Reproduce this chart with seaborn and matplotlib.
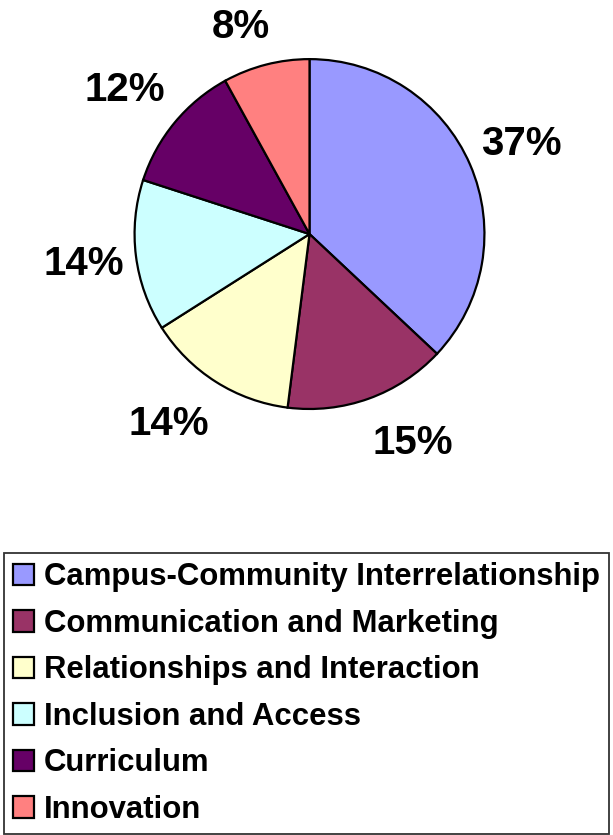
import matplotlib
matplotlib.use("Agg")
import numpy as np
import matplotlib.pyplot as plt
import seaborn as sns

# Slice data, clockwise from 12 o'clock
categories = [
    "Campus-Community Interrelationship",
    "Communication and Marketing",
    "Relationships and Interaction",
    "Inclusion and Access",
    "Curriculum",
    "Innovation",
]
shares = [37, 15, 14, 14, 12, 8]
slice_colors = ["#9999FF", "#993366", "#FFFFCC", "#CCFFFF", "#660066", "#FF8080"]

sns.set_theme(style="white")
plt.rcParams["font.family"] = ["Liberation Sans", "DejaVu Sans"]
plt.rcParams["font.weight"] = "bold"
plt.rcParams["text.color"] = "black"

fig = plt.figure(figsize=(6.13, 8.35), dpi=100)
fig.patch.set_facecolor("white")

# pie axes sized to the pie's bounding box
ax = fig.add_axes([0.2194, 0.5102, 0.571, 0.419])
palette = sns.color_palette(slice_colors)
wedges, _, pct_texts = ax.pie(
    shares,
    colors=palette,
    startangle=90,
    counterclock=False,
    radius=1.0,
    autopct=lambda p: f"{p:.0f}%",
    pctdistance=1.3,
    wedgeprops=dict(edgecolor="black", linewidth=1.6),
    textprops=dict(fontsize=29, fontweight="bold", color="black"),
)
ax.set_xlim(-1, 1)
ax.set_ylim(-1, 1)
ax.set_aspect("equal")
ax.axis("off")

# Excel-style outside labels: push each label box out from the rim
fig.canvas.draw()
renderer = fig.canvas.get_renderer()
px_per_unit = ax.transData.transform((1, 0))[0] - ax.transData.transform((0, 0))[0]
gap = 1.07
for w, t in zip(wedges, pct_texts):
    ang = np.deg2rad((w.theta1 + w.theta2) / 2)
    ux, uy = np.cos(ang), np.sin(ang)
    half_w = t.get_window_extent(renderer).width / 2 / px_per_unit
    half_h = 0.15 if uy > 0 else 0.185
    cx = np.clip(ux * 3, -1, 1)
    cy = np.clip(uy * 1.5, -1, 1)
    t.set_position((gap * ux + half_w * cx, gap * uy + half_h * cy))
    t.set_ha("center")
    t.set_va("center")
    t.set_clip_on(False)

leg = fig.legend(
    wedges,
    categories,
    loc="upper left",
    bbox_to_anchor=(0.0065, 0.3377),
    frameon=True,
    fancybox=False,
    shadow=False,
    handlelength=0.68,
    handleheight=0.68,
    handletextpad=0.3,
    labelspacing=0.53,
    borderpad=0.3,
    borderaxespad=0,
    prop=dict(weight="bold", size=22.4),
)
leg.get_frame().set_edgecolor("black")
leg.get_frame().set_linewidth(1.3)
for txt in leg.get_texts():
    txt.set_color("black")
for h in leg.legend_handles:
    h.set_edgecolor("black")
    h.set_linewidth(1.6)

fig.savefig("out.png", dpi=100, facecolor="white")
